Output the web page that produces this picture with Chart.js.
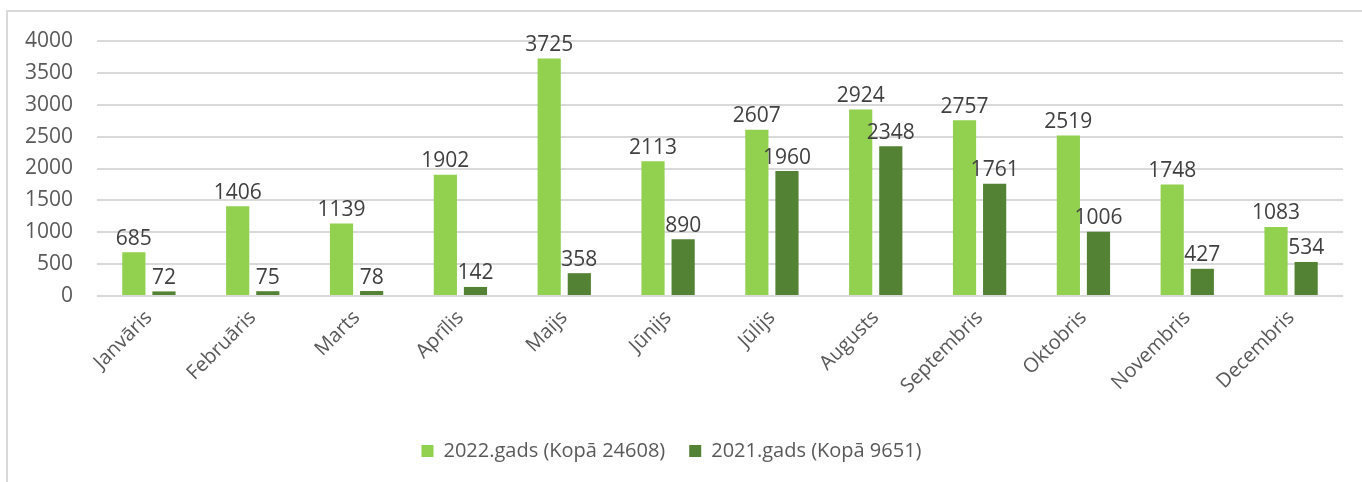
<!DOCTYPE html>
<html>
<head>
<meta charset="utf-8">
<script src="https://cdn.jsdelivr.net/npm/chart.js@4/dist/chart.umd.min.js"></script>
<style>
    body { margin: 0; background: #ffffff; }
    #frame {
        position: absolute; left: 6px; top: 10px;
        width: 1400px; height: 500px;
        border-left: 2px solid #d9d9d9; border-top: 2px solid #d9d9d9;
    }
    #chart { position: absolute; left: 0; top: 0; }
</style>
</head>
<body>
<div id="frame"></div>
<canvas id="chart" width="1362" height="482"></canvas>
<script>
var MONTHS = ["Janvāris", "Februāris", "Marts", "Aprīlis", "Maijs", "Jūnijs",
    "Jūlijs", "Augusts", "Septembris", "Oktobris", "Novembris", "Decembris"];
var VALUES_2022 = [685, 1406, 1139, 1902, 3725, 2113, 2607, 2924, 2757, 2519, 1748, 1083];
var VALUES_2021 = [72, 75, 78, 142, 358, 890, 1960, 2348, 1761, 1006, 427, 534];
var LABEL_2022 = "2022.gads (Kopā 24608)";
var LABEL_2021 = "2021.gads (Kopā 9651)";
var Y_TICKS = [0, 500, 1000, 1500, 2000, 2500, 3000, 3500, 4000];

const LIGHT_GREEN = "#92d050";
const DARK_GREEN = "#548235";
const TEXT_COLOR = "#595959";
const FONT = "'Open Sans', sans-serif";

// draws the value above every bar, since there is no datalabels plugin here
var valueLabels = {
    id: "valueLabels",
    afterDatasetsDraw: function (chart) {
        var ctx = chart.ctx;
        ctx.save();
        ctx.font = "21px " + FONT;
        ctx.fillStyle = "#404040";
        ctx.textAlign = "center";
        ctx.textBaseline = "bottom";
        chart.data.datasets.forEach(function (dataset, i) {
            var meta = chart.getDatasetMeta(i);
            meta.data.forEach(function (bar, j) {
                ctx.fillText(dataset.data[j], bar.x, bar.y - 3);
            });
        });
        ctx.restore();
    }
};

var chart = new Chart(document.getElementById("chart"), {
    type: "bar",
    data: {
        labels: MONTHS,
        datasets: [{
            label: LABEL_2022,
            data: VALUES_2022,
            backgroundColor: LIGHT_GREEN
        }, {
            label: LABEL_2021,
            data: VALUES_2021,
            backgroundColor: DARK_GREEN
        }]
    },
    options: {
        responsive: false,
        animation: false,
        categoryPercentage: 0.58,
        barPercentage: 0.77,
        layout: { padding: { left: 0, right: 19, top: 41, bottom: 11 } },
        plugins: {
            tooltip: { enabled: false },
            legend: {
                position: "bottom",
                labels: {
                    boxWidth: 12,
                    boxHeight: 12,
                    padding: 24,
                    color: TEXT_COLOR,
                    font: { family: FONT, size: 20 }
                }
            }
        },
        scales: {
            x: {
                grid: { display: false },
                border: { display: false },
                ticks: {
                    color: TEXT_COLOR,
                    minRotation: 45,
                    maxRotation: 45,
                    padding: 2,
                    font: { family: FONT, size: 20 }
                },
                afterFit: function (scale) { scale.height = 121; }
            },
            y: {
                min: 0,
                max: 4000,
                afterBuildTicks: function (scale) {
                    scale.ticks = Y_TICKS.map(function (v) { return { value: v }; });
                },
                grid: { color: "#d9d9d9", lineWidth: 2, drawTicks: false },
                border: { display: false },
                ticks: {
                    color: TEXT_COLOR,
                    padding: 24,
                    font: { family: FONT, size: 21 },
                    callback: function (value) { return String(value); }
                },
                afterFit: function (scale) { scale.width = 97; }
            }
        }
    },
    plugins: [valueLabels]
});
</script>
</body>
</html>
